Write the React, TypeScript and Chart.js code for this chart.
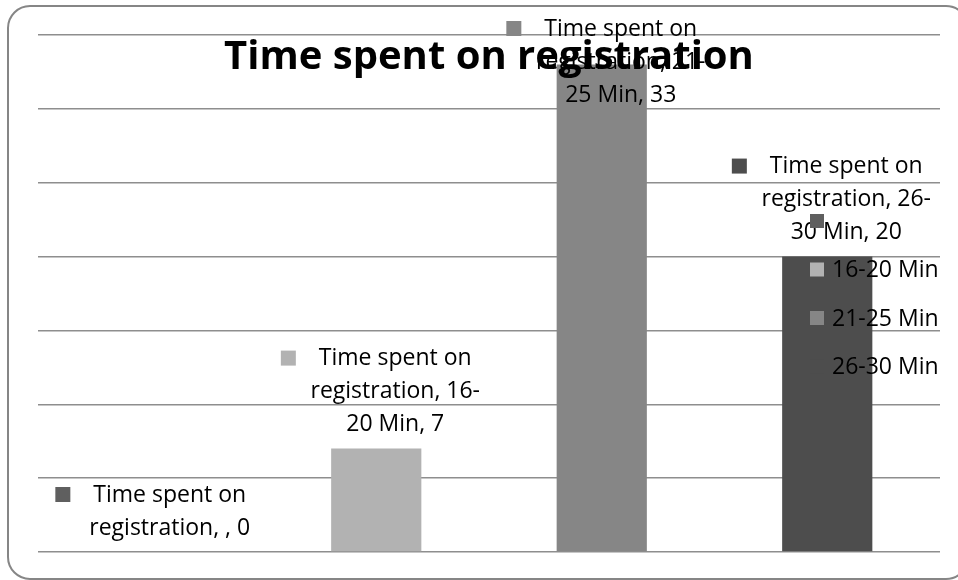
import React, { useEffect, useRef } from "react";
import { Chart, registerables } from "chart.js";

Chart.register(...registerables);

const SERIES_NAME = "Time spent on registration";
const CATEGORIES = ["", "16-20 Min", "21-25 Min", "26-30 Min"];
const VALUES = [0, 7, 33, 20];
const BAR_COLORS = ["#5f5f5f", "#b2b2b2", "#868686", "#4d4d4d"];
const Y_MIN = 0;
const Y_MAX = 35;
const Y_STEP = 5;

const FONT = "'Open Sans', 'Liberation Sans', sans-serif";
const LABEL_FONT = `23px ${FONT}`;

function wrapText(ctx: CanvasRenderingContext2D, text: string, maxW: number): string[] {
  const tokens = text.split(/(?<=\s)|(?<=-)/);
  const lines: string[] = [];
  let cur = "";
  for (const t of tokens) {
    const cand = cur + t;
    if (cur && ctx.measureText(cand.trim()).width > maxW) {
      lines.push(cur.trim());
      cur = t;
    } else {
      cur = cand;
    }
  }
  if (cur.trim()) lines.push(cur.trim());
  return lines;
}

const overlayPlugin = {
  id: "overlay",
  afterDraw(chart: any) {
    const ctx: CanvasRenderingContext2D = chart.ctx;
    const area = chart.chartArea;
    ctx.save();

    // data labels
    ctx.font = LABEL_FONT;
    ctx.fillStyle = "#000";
    ctx.textBaseline = "middle";
    ctx.textAlign = "center";
    const meta = chart.getDatasetMeta(0);
    meta.data.forEach((bar: any, i: number) => {
      const text = `${SERIES_NAME}, ${CATEGORIES[i]}, ${VALUES[i]}`;
      const lines = wrapText(ctx, text, 182);
      const cx = bar.x + 19;
      const lineH = 33;
      let firstY = bar.y - 24 - lineH * (lines.length - 1);
      if (firstY < 29) firstY = 29;
      lines.forEach((l, j) => {
        ctx.fillStyle = "#000";
        ctx.fillText(l, cx, firstY + lineH * j);
      });
      const w0 = ctx.measureText(lines[0]).width;
      const left = cx - w0 / 2;
      ctx.fillStyle = BAR_COLORS[i];
      ctx.fillRect(left - 23 - 15, firstY - 8, 15, 15);
    });

    // legend
    ctx.textAlign = "left";
    const lx = area.right - 130;
    CATEGORIES.forEach((c, i) => {
      const y = 221 + 48.5 * i;
      ctx.fillStyle = BAR_COLORS[i];
      ctx.fillRect(lx, y - 7, 14, 14);
      ctx.fillStyle = "#000";
      ctx.fillText(c, lx + 22, y + 1);
    });

    // title
    ctx.font = `bold 40px ${FONT}`;
    ctx.textAlign = "center";
    ctx.fillStyle = "#000";
    ctx.fillText(SERIES_NAME, 489, 58);

    // outer rounded border
    ctx.strokeStyle = "#868686";
    ctx.lineWidth = 2;
    ctx.beginPath();
    ctx.roundRect(8, 6, 960, 573, 22);
    ctx.stroke();
    ctx.restore();
  },
};

export default function App() {
  const ref = useRef<HTMLCanvasElement>(null);
  useEffect(() => {
    if (!ref.current) return;
    const chart = new Chart(ref.current, {
      type: "bar",
      data: {
        labels: CATEGORIES,
        datasets: [
          {
            label: SERIES_NAME,
            data: VALUES,
            backgroundColor: BAR_COLORS,
            borderWidth: 0,
            categoryPercentage: 1,
            barPercentage: 0.4,
          },
        ],
      },
      options: {
        animation: false,
        responsive: false,
        maintainAspectRatio: false,
        layout: { padding: { left: 38, right: 18, top: 35, bottom: 28 } },
        plugins: {
          legend: { display: false },
          title: { display: false },
          tooltip: { enabled: false },
        },
        scales: {
          x: { display: false },
          y: {
            display: true,
            min: Y_MIN,
            max: Y_MAX,
            ticks: { display: false, stepSize: Y_STEP },
            border: { display: false },
            grid: { color: "#8e8e8e", lineWidth: 1.5, drawTicks: false },
            afterFit: (s: any) => {
              s.width = 0;
            },
          },
        },
      },
      plugins: [overlayPlugin],
    });
    return () => chart.destroy();
  }, []);
  return (
    <div style={{ position: "fixed", left: 0, top: 0, width: 958, height: 580, background: "#fff" }}>
      <canvas ref={ref} width={958} height={580} style={{ width: 958, height: 580, display: "block" }} />
    </div>
  );
}
